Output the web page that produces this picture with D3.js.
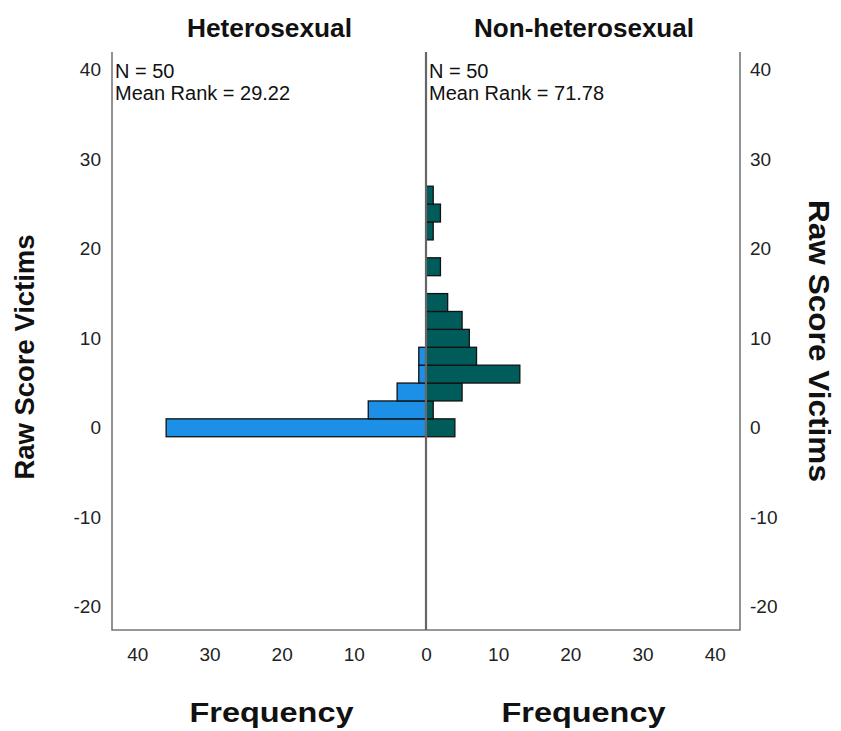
<!DOCTYPE html>
<html>
<head>
<meta charset="utf-8">
<script src="https://cdn.jsdelivr.net/npm/d3@7"></script>
<style>
  body { margin: 0; background: #fff; }
  text { font-family: "Liberation Sans", Arial, sans-serif; }
</style>
</head>
<body>
<div id="content"></div>
<script>
// bin centres (Raw Score Victims) and frequencies per group
const heteroBins = [0, 2, 4, 6, 8];
const heteroFreq = [36, 8, 4, 1, 1];
const nonBins = [0, 2, 4, 6, 8, 10, 12, 14, 18, 22, 24, 26];
const nonFreq = [4, 1, 5, 13, 7, 6, 5, 3, 2, 1, 2, 1];
const groups = ["Heterosexual", "Non-heterosexual"];
const stats = [["N = 50", "Mean Rank = 29.22"], ["N = 50", "Mean Rank = 71.78"]];
const yTicks = [-20, -10, 0, 10, 20, 30, 40];
const xTicks = [0, 10, 20, 30, 40];
const binWidth = 2;

const W = 841, H = 731;
const plotLeft = 112, plotRight = 740, mid = 426, plotTop = 52, plotBottom = 630;

const svg = d3.select("#content").append("svg")
    .attr("width", W)
    .attr("height", H);

const y = d3.scaleLinear().domain([-22.6, 42]).range([plotBottom, plotTop]);
const xL = d3.scaleLinear().domain([0, 43.5]).range([mid, plotLeft]);
const xR = d3.scaleLinear().domain([0, 43.5]).range([mid, plotRight]);

// bars
const heteroData = heteroBins.map((b, i) => ({bin: b, n: heteroFreq[i]}));
const nonData = nonBins.map((b, i) => ({bin: b, n: nonFreq[i]}));

svg.append("g").selectAll("rect")
    .data(heteroData)
    .enter().append("rect")
    .attr("x", d => xL(d.n))
    .attr("y", d => y(d.bin + binWidth / 2))
    .attr("width", d => xL(0) - xL(d.n))
    .attr("height", d => y(d.bin - binWidth / 2) - y(d.bin + binWidth / 2))
    .style("fill", "#1c8fe6")
    .style("stroke", "#111")
    .style("stroke-width", 1.3);

svg.append("g").selectAll("rect")
    .data(nonData)
    .enter().append("rect")
    .attr("x", xR(0))
    .attr("y", d => y(d.bin + binWidth / 2))
    .attr("width", d => xR(d.n) - xR(0))
    .attr("height", d => y(d.bin - binWidth / 2) - y(d.bin + binWidth / 2))
    .style("fill", "#005c5a")
    .style("stroke", "#111")
    .style("stroke-width", 1.3);

// frame
svg.append("path")
    .attr("d", `M${plotLeft},${plotTop}V${plotBottom}H${plotRight}V${plotTop}`)
    .style("fill", "none")
    .style("stroke", "#777")
    .style("stroke-width", 1.6);
svg.append("line")
    .attr("x1", mid).attr("x2", mid)
    .attr("y1", plotTop).attr("y2", plotBottom)
    .style("stroke", "#666")
    .style("stroke-width", 2.2);

// axes
function styleAxis(g) {
    g.select(".domain").remove();
    g.selectAll("text")
        .style("font-family", "'Liberation Sans', Arial, sans-serif")
        .style("font-size", "19px")
        .style("fill", "#222");
}
const fmt = d => String(d);
svg.append("g")
    .attr("transform", `translate(${plotLeft - 4},0)`)
    .call(d3.axisLeft(y).tickValues(yTicks).tickFormat(fmt).tickSize(0).tickPadding(7))
    .call(styleAxis);
svg.append("g")
    .attr("transform", `translate(${plotRight + 3},0)`)
    .call(d3.axisRight(y).tickValues(yTicks).tickFormat(fmt).tickSize(0).tickPadding(7))
    .call(styleAxis);
svg.append("g")
    .attr("transform", `translate(0,${plotBottom + 12})`)
    .call(d3.axisBottom(xL).tickValues(xTicks.slice(1)).tickFormat(fmt).tickSize(0).tickPadding(6))
    .call(styleAxis);
svg.append("g")
    .attr("transform", `translate(0,${plotBottom + 12})`)
    .call(d3.axisBottom(xR).tickValues(xTicks).tickFormat(fmt).tickSize(0).tickPadding(6))
    .call(styleAxis);

// group titles
const titleX = [269.5, 584];
const titleLen = [165, 220];
svg.selectAll(".gtitle")
    .data(groups)
    .enter().append("text")
    .attr("x", (d, i) => titleX[i])
    .attr("y", 37)
    .attr("text-anchor", "middle")
    .attr("textLength", (d, i) => titleLen[i])
    .attr("lengthAdjust", "spacingAndGlyphs")
    .style("font-size", "26px")
    .style("font-weight", "bold")
    .style("fill", "#111")
    .text(d => d);

// stats
const statX = [plotLeft + 3, mid + 3];
stats.forEach((s, i) => {
    s.forEach((t, j) => {
        svg.append("text")
            .attr("x", statX[i])
            .attr("y", 78 + j * 22)
            .style("font-size", "20px")
            .style("fill", "#111")
            .text(t);
    });
});

// frequency labels
const freqX = [271.5, 583.5];
svg.selectAll(".flab")
    .data(freqX)
    .enter().append("text")
    .attr("x", d => d)
    .attr("y", 722)
    .attr("text-anchor", "middle")
    .attr("textLength", 164)
    .attr("lengthAdjust", "spacingAndGlyphs")
    .style("font-size", "27px")
    .style("font-weight", "bold")
    .style("fill", "#111")
    .text("Frequency");

// y titles
svg.append("text")
    .attr("transform", `translate(34,357) rotate(-90)`)
    .attr("text-anchor", "middle")
    .attr("textLength", 245)
    .attr("lengthAdjust", "spacingAndGlyphs")
    .style("font-size", "28px")
    .style("font-weight", "bold")
    .style("fill", "#111")
    .text("Raw Score Victims");
svg.append("text")
    .attr("transform", `translate(809,341) rotate(90)`)
    .attr("text-anchor", "middle")
    .attr("textLength", 282)
    .attr("lengthAdjust", "spacingAndGlyphs")
    .style("font-size", "30px")
    .style("font-weight", "bold")
    .style("fill", "#111")
    .text("Raw Score Victims");
</script>
</body>
</html>
